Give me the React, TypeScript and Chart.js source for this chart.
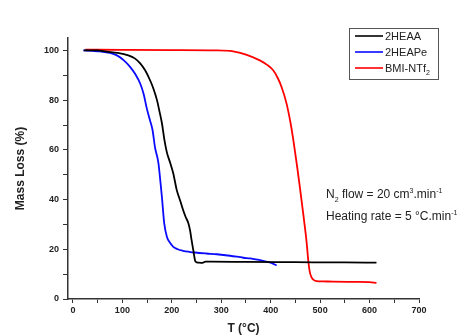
import React, { useEffect, useRef } from 'react';
import { Chart, registerables } from 'chart.js';

Chart.register(...registerables);

// ---- data ----
const heaaT = [22, 50, 68, 90, 112, 125, 136, 146, 156, 163, 170, 175, 180, 185, 190, 197, 203, 210, 217, 223, 228, 233.5, 237, 240, 244, 247, 250, 255, 262, 268, 280, 350, 450, 550, 614];
const heaaM = [100, 100, 99.5, 99, 98, 96.8, 94.8, 92, 88, 84.5, 80, 75.5, 70.7, 64, 59, 54.6, 50.5, 43.8, 39.5, 35.7, 33, 30.5, 27.5, 23.7, 19, 15.5, 14.8, 14.6, 14.5, 15, 15, 14.9, 14.8, 14.7, 14.6];

const heapeT = [21, 40, 55, 75, 89, 103, 116, 126, 136, 143, 149, 155, 161, 166, 173, 177, 180, 184.6, 190, 196, 203, 212, 223, 235, 247, 270, 291, 318, 345, 359, 385, 400, 412];
const heapeM = [100, 99.8, 99.6, 99, 98, 96, 93.3, 90.5, 86.7, 82.5, 77, 72.5, 68, 61, 54.6, 47, 41, 30.5, 25, 22.7, 21, 20, 19.4, 19, 18.7, 18.3, 18, 17.4, 16.6, 16.3, 15.3, 14.6, 13.5];

const bmiT = [25, 100, 200, 291, 324, 350, 378, 392, 405, 414, 422, 432, 440, 445, 449, 454, 459, 466, 472.6, 476, 479, 482, 485, 493, 505, 526, 570, 600, 614];
const bmiM = [100.3, 100.2, 100.1, 100, 99.6, 98.3, 96, 94.3, 92, 89, 85.3, 78.7, 71, 65, 59.5, 52.5, 45, 34, 23, 15.5, 11, 9, 8, 7.2, 7.1, 7, 6.9, 6.8, 6.5];

const seriesLabels = ['2HEAA', '2HEAPe', 'BMI-NTf₂'];
const seriesColors = ['#000000', '#0a0aff', '#ff0000'];

const xTickValues = [0, 50, 100, 150, 200, 250, 300, 350, 400, 450, 500, 550, 600, 650, 700];
const yTickValues = [0, 10, 20, 30, 40, 50, 60, 70, 80, 90, 100];

const xTitle = 'T (°C)';
const yTitle = 'Mass Loss (%)';

type Seg = { t: string; mode?: 'sub' | 'sup' };
const legendParts: Seg[][] = [
  [{ t: '2HEAA' }],
  [{ t: '2HEAPe' }],
  [{ t: 'BMI-NTf' }, { t: '2', mode: 'sub' }],
];
const noteLines: Seg[][] = [
  [{ t: 'N' }, { t: '2', mode: 'sub' }, { t: ' flow = 20 cm' }, { t: '3', mode: 'sup' }, { t: '.min' }, { t: '-1', mode: 'sup' }],
  [{ t: 'Heating rate = 5 °C.min' }, { t: '-1', mode: 'sup' }],
];

const FONT = '"Liberation Sans", Arial, sans-serif';

function toPoints(xs: number[], ys: number[]) {
  return xs.map((x, i) => ({ x, y: ys[i] }));
}

function drawRich(ctx: CanvasRenderingContext2D, segs: Seg[], x: number, y: number, size: number) {
  let cx = x;
  for (const s of segs) {
    if (s.mode) {
      ctx.font = `${Math.round(size * 0.6)}px ${FONT}`;
      const dy = s.mode === 'sub' ? size * 0.3 : -size * 0.4;
      ctx.fillText(s.t, cx, y + dy);
      cx += ctx.measureText(s.t).width;
    } else {
      ctx.font = `${size}px ${FONT}`;
      ctx.fillText(s.t, cx, y);
      cx += ctx.measureText(s.t).width;
    }
  }
}

const overlayPlugin = {
  id: 'overlay',
  afterDraw(chart: any) {
    const ctx: CanvasRenderingContext2D = chart.ctx;
    ctx.save();
    // legend box
    ctx.strokeStyle = '#555';
    ctx.lineWidth = 1;
    ctx.strokeRect(349.5, 28.5, 89, 51);
    const rows = [36, 52, 68];
    chart.data.datasets.forEach((ds: any, i: number) => {
      ctx.strokeStyle = ds.borderColor;
      ctx.lineWidth = 1.6;
      ctx.beginPath();
      ctx.moveTo(355, rows[i]);
      ctx.lineTo(383, rows[i]);
      ctx.stroke();
      ctx.fillStyle = '#222';
      ctx.textBaseline = 'alphabetic';
      ctx.textAlign = 'left';
      drawRich(ctx, legendParts[i], 385, rows[i] + 4, 11);
    });
    // annotation
    ctx.fillStyle = '#222';
    drawRich(ctx, noteLines[0], 326, 198, 12);
    drawRich(ctx, noteLines[1], 326, 220, 12);
    ctx.restore();
  },
};

export default function App() {
  const ref = useRef<HTMLCanvasElement | null>(null);

  useEffect(() => {
    if (!ref.current) return;
    const chart = new Chart(ref.current, {
      type: 'line',
      data: {
        datasets: [
          { label: seriesLabels[0], data: toPoints(heaaT, heaaM), borderColor: seriesColors[0] },
          { label: seriesLabels[1], data: toPoints(heapeT, heapeM), borderColor: seriesColors[1] },
          { label: seriesLabels[2], data: toPoints(bmiT, bmiM), borderColor: seriesColors[2] },
        ].map((d) => ({
          ...d,
          borderWidth: 1.8,
          pointRadius: 0,
          fill: false,
          cubicInterpolationMode: 'monotone' as const,
        })),
      },
      options: {
        responsive: false,
        animation: false,
        parsing: false as any,
        layout: { padding: { top: 38, right: 38, left: 0, bottom: 0 } },
        plugins: { legend: { display: false }, tooltip: { enabled: false } },
        scales: {
          x: {
            type: 'linear',
            min: -10,
            max: 700,
            afterBuildTicks: (s: any) => {
              s.ticks = xTickValues.map((v) => ({ value: v }));
            },
            afterFit: (s: any) => {
              s.height = 37;
            },
            ticks: {
              autoSkip: false,
              maxRotation: 0,
              padding: 2,
              color: '#222',
              font: { family: FONT, size: 9, weight: 'bold' },
              callback: (v: any) => (Number(v) % 100 === 0 ? String(v) : ''),
            },
            grid: { display: true, drawOnChartArea: false, drawTicks: true, tickLength: 4, color: '#333', lineWidth: 1 },
            border: { display: true, color: '#333', width: 1.5 },
            title: {
              display: true,
              text: xTitle,
              color: '#222',
              font: { family: FONT, size: 12, weight: 'bold' },
              padding: { top: 0, bottom: 0 },
            },
          },
          y: {
            type: 'linear',
            min: 0,
            max: 105,
            afterBuildTicks: (s: any) => {
              s.ticks = yTickValues.map((v) => ({ value: v }));
            },
            afterFit: (s: any) => {
              s.width = 68;
            },
            ticks: {
              autoSkip: false,
              padding: 4,
              color: '#222',
              font: { family: FONT, size: 9, weight: 'bold' },
              callback: (v: any) => (Number(v) % 20 === 0 ? String(v) : ''),
            },
            grid: { display: true, drawOnChartArea: false, drawTicks: true, tickLength: 5, color: '#333', lineWidth: 1 },
            border: { display: true, color: '#333', width: 1.5 },
            title: {
              display: true,
              text: yTitle,
              color: '#222',
              font: { family: FONT, size: 12, weight: 'bold' },
              padding: { top: 13, bottom: 0 },
            },
          },
        },
      },
      plugins: [overlayPlugin],
    } as any);
    return () => chart.destroy();
  }, []);

  return (
    <div style={{ position: 'absolute', left: 0, top: 0, width: 457, height: 336, background: '#fff' }}>
      <canvas ref={ref} width={457} height={336} style={{ display: 'block' }} />
    </div>
  );
}
